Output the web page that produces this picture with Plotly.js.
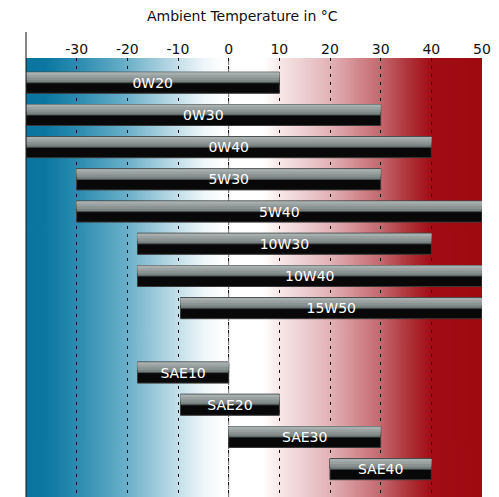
<!DOCTYPE html>
<html>
<head>
<meta charset="utf-8">
<script src="https://cdn.plot.ly/plotly-3.0.1.min.js"></script>
<style>html,body{margin:0;padding:0;background:#fff;}#chart{width:499px;height:497px;}</style>
</head>
<body>
<div id="chart"></div>
<script>
// ---- data ----
const grades = ["0W20","0W30","0W40","5W30","5W40","10W30","10W40","15W50"," ","SAE10","SAE20","SAE30","SAE40"];
const lowTemps  = [-40,-40,-40,-30,-30,-18,-18,-9.5,null,-18,-9.5,0,20];
const highTemps = [10,30,40,30,50,40,50,50,null,0,10,30,40];
const tickValues = [-30,-20,-10,0,10,20,30,40,50];
const tickLabels = ["-30","-20","-10","0","10","20","30","40","50"];
const xMin = -40, xMax = 50;

const spans = highTemps.map((h,i)=> h===null ? null : h - lowTemps[i]);
const labels = grades.map((g,i)=> highTemps[i]===null ? "" : g);

// background gradient image
function gradientURL(){
  const c = document.createElement('canvas');
  c.width = 900; c.height = 4;
  const ctx = c.getContext('2d');
  const g = ctx.createLinearGradient(0,0,900,0);
  const stops = [[-40,'#0a76a0'],[-36,'#0c78a1'],[-30,'#2a8bb0'],[-20,'#6cb0c9'],[-10,'#c4dfe9'],[-5,'#eef6f9'],[-1,'#ffffff'],[7,'#ffffff'],[10,'#f8e7e9'],[20,'#e2b3b7'],[30,'#c4686e'],[35,'#b0373e'],[40,'#a10d14'],[50,'#9e0a10']];
  stops.forEach(s=>g.addColorStop((s[0]-xMin)/(xMax-xMin), s[1]));
  ctx.fillStyle = g; ctx.fillRect(0,0,900,4);
  return c.toDataURL('image/png');
}

const font = "DejaVu Sans, Verdana, sans-serif";
const common = {type:'bar', orientation:'h', y:grades, x:spans, base:lowTemps, hoverinfo:'skip', showlegend:false};
const barW = 0.652, half = 0.326;
const greys = ['#7a8282','#8a9292','#98a0a0','#a6aeae'];

const traces = [
  Object.assign({}, common, {width:barW, marker:{color:'#080808', line:{color:'#3a3a3a', width:1}}})
];
greys.forEach((col,k)=>{
  traces.push(Object.assign({}, common, {width:half*(1-k/4) - (k===0?0:0.01), offset:-half + (k===0?0:0.01),
    marker:{color:col, line:{width: k===0?1:0, color:'#4a5050'}}}));
});
traces.push(Object.assign({}, common, {width:barW, marker:{color:'rgba(0,0,0,0)', line:{width:0}},
    text:labels, textposition:'inside', insidetextanchor:'middle', constraintext:'none',
    textfont:{family:font, size:14, color:'#ffffff'}}));

const layout = {
  width:499, height:497,
  margin:{l:26, r:17, t:58, b:0},
  paper_bgcolor:'#ffffff', plot_bgcolor:'rgba(0,0,0,0)',
  barmode:'overlay',
  font:{family:font, size:14, color:'#111'},
  xaxis:{range:[xMin,xMax], side:'top', tickvals:tickValues, ticktext:tickLabels,
    ticks:'', showline:false, zeroline:false, showgrid:true, gridcolor:'#111', gridwidth:1, griddash:'3px,5px',
    tickfont:{family:font, size:14, color:'#111'}, fixedrange:true},
  yaxis:{type:'category', categoryarray:grades, categoryorder:'array', range:[12.863,-0.77],
    showticklabels:false, ticks:'', showgrid:false, zeroline:false, showline:false, fixedrange:true},
  images:[{source:gradientURL(), xref:'x', yref:'paper', x:xMin, y:1, sizex:xMax-xMin, sizey:1,
    xanchor:'left', yanchor:'top', sizing:'stretch', layer:'below'}],
  shapes:[
    {type:'line', xref:'x', yref:'paper', x0:0, x1:0, y0:0, y1:1, layer:'below', line:{color:'#6a6a6a', width:1, dash:'6px,2px'}},
    {type:'line', xref:'paper', yref:'paper', x0:0, x1:0, y0:0, y1:1.0592, line:{color:'#111', width:1}}
  ],
  annotations:[{text:'Ambient Temperature in °C', xref:'paper', yref:'paper', x:0.474, y:1.0957, xanchor:'center', yanchor:'middle', showarrow:false, font:{family:font, size:14, color:'#111'}}]
};

Plotly.newPlot('chart', traces, layout, {displayModeBar:false, staticPlot:true});
</script>
</body>
</html>
